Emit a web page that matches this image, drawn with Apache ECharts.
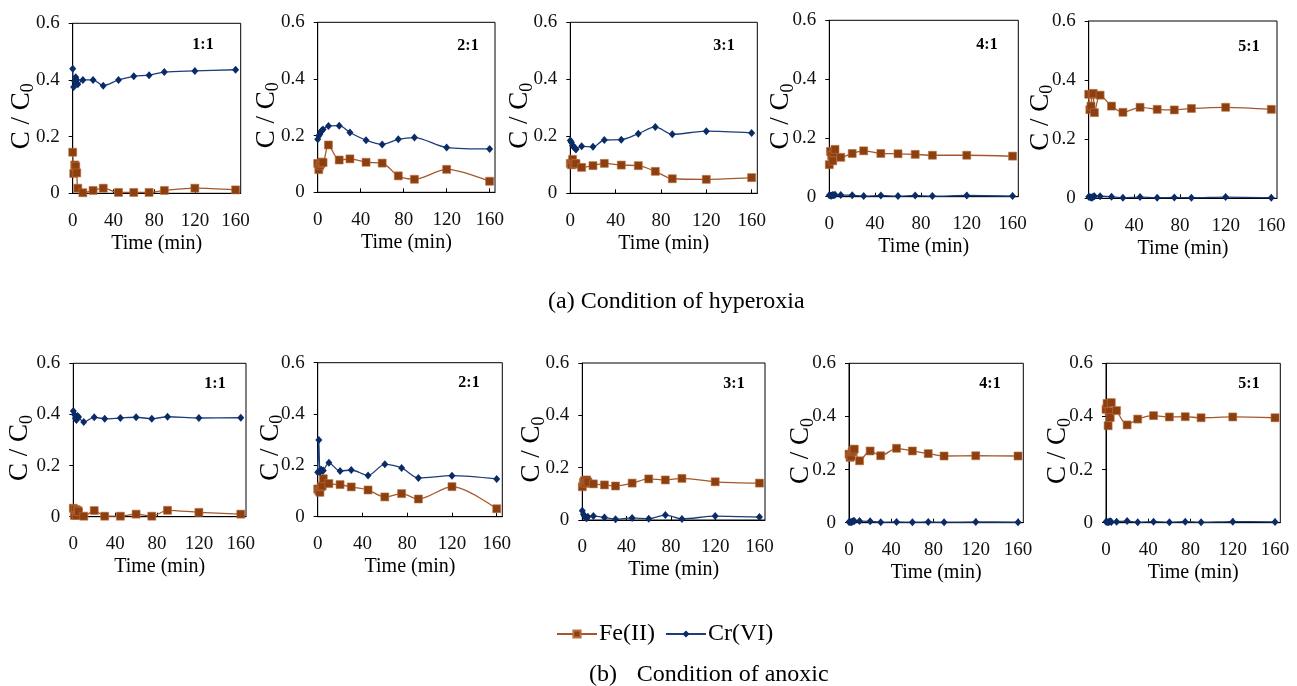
<!DOCTYPE html>
<html><head><meta charset="utf-8">
<script src="https://cdn.jsdelivr.net/npm/echarts@6/dist/echarts.min.js"></script>
<style>html,body{margin:0;padding:0;background:#fff}#c{width:1297px;height:686px}</style>
</head><body><div id="c"></div><script>
// ---- data ----
const times = [0, 1, 2, 3, 4, 5, 10, 20, 30, 45, 60, 75, 90, 120, 160];
const ratios = ['1:1', '2:1', '3:1', '4:1', '5:1'];
const yTicks = [0, 0.2, 0.4, 0.6];
const xTicks = [0, 40, 80, 120, 160];

// (a) hyperoxia
const feA1 = [0.145, 0.07, 0.1, 0.095, 0.072, 0.018, 0.002, 0.01, 0.018, 0.003, 0.003, 0.003, 0.01, 0.018, 0.012];
const crA1 = [0.44, 0.375, 0.395, 0.41, 0.40, 0.385, 0.40, 0.40, 0.38, 0.40, 0.413, 0.417, 0.428, 0.432, 0.436];
const feA2 = [0.102, 0.08, 0.095, 0.102, 0.107, 0.105, 0.167, 0.114, 0.118, 0.106, 0.103, 0.058, 0.046, 0.081, 0.039];
const crA2 = [0.187, 0.20, 0.205, 0.215, 0.218, 0.222, 0.234, 0.235, 0.211, 0.184, 0.169, 0.187, 0.193, 0.158, 0.153];
const feA3 = [0.105, 0.1, 0.119, 0.102, 0.105, 0.104, 0.091, 0.097, 0.105, 0.099, 0.097, 0.077, 0.051, 0.049, 0.055];
const crA3 = [0.185, 0.178, 0.167, 0.163, 0.16, 0.154, 0.165, 0.163, 0.187, 0.188, 0.209, 0.233, 0.207, 0.218, 0.212];
const feA4 = [0.109, 0.154, 0.14, 0.122, 0.15, 0.161, 0.134, 0.147, 0.156, 0.147, 0.146, 0.144, 0.141, 0.141, 0.138];
const crA4 = [0.005, 0.004, 0.003, 0.006, 0.005, 0.007, 0.006, 0.005, 0.002, 0.004, 0.002, 0.004, 0.002, 0.004, 0.002];
const feA5 = [0.352, 0.30, 0.312, 0.352, 0.355, 0.29, 0.349, 0.312, 0.291, 0.308, 0.301, 0.299, 0.304, 0.308, 0.301];
const crA5 = [0.005, 0.004, 0.003, 0.002, 0.006, 0.007, 0.007, 0.005, 0.002, 0.004, 0.002, 0.003, 0.002, 0.004, 0.002];

// (b) anoxic
const feB1 = [0.033, 0.005, 0.028, 0.005, 0.025, 0.02, 0.002, 0.024, 0.002, 0.002, 0.01, 0.002, 0.025, 0.017, 0.01];
const crB1 = [0.413, 0.40, 0.385, 0.378, 0.394, 0.39, 0.37, 0.389, 0.383, 0.386, 0.389, 0.383, 0.391, 0.386, 0.387];
const feB2 = [0.108, 0.101, 0.095, 0.117, 0.12, 0.148, 0.129, 0.125, 0.116, 0.104, 0.077, 0.09, 0.069, 0.117, 0.031];
const crB2 = [0.173, 0.299, 0.175, 0.184, 0.179, 0.18, 0.21, 0.178, 0.182, 0.161, 0.204, 0.19, 0.151, 0.16, 0.147];
const feB3 = [0.127, 0.143, 0.15, 0.14, 0.153, 0.145, 0.138, 0.134, 0.13, 0.141, 0.157, 0.153, 0.159, 0.146, 0.141];
const crB3 = [0.035, 0.022, 0.015, 0.01, 0.007, 0.012, 0.015, 0.01, 0.003, 0.008, 0.005, 0.019, 0.004, 0.015, 0.011];
const feB4 = [0.258, 0.246, 0.25, 0.267, 0.273, 0.277, 0.233, 0.27, 0.252, 0.28, 0.27, 0.26, 0.251, 0.252, 0.251];
const crB4 = [0.003, 0.003, 0.002, 0.004, 0.006, 0.006, 0.006, 0.005, 0.002, 0.003, 0.002, 0.003, 0.002, 0.003, 0.002];
const feB5 = [0.427, 0.449, 0.365, 0.418, 0.396, 0.452, 0.422, 0.368, 0.39, 0.403, 0.398, 0.399, 0.395, 0.398, 0.395];
const crB5 = [0.004, 0.003, 0.002, 0.004, 0.005, 0.003, 0.004, 0.006, 0.002, 0.004, 0.002, 0.004, 0.002, 0.004, 0.003];

const feSets = [feA1, feA2, feA3, feA4, feA5, feB1, feB2, feB3, feB4, feB5];
const crSets = [crA1, crA2, crA3, crA4, crA5, crB1, crB2, crB3, crB4, crB5];

// ---- layout (positions only) ----
const panels = [
  {left: 72.7, top: 23.3, width: 168, height: 170, gap: 35, lx: 203, ly: 45},
  {left: 317.7, top: 22.3, width: 177.3, height: 170, gap: 35, lx: 468, ly: 46},
  {left: 570.3, top: 22.3, width: 187, height: 171, gap: 34, lx: 724, ly: 46},
  {left: 829.3, top: 20.3, width: 189, height: 176.4, gap: 32, lx: 987, ly: 45},
  {left: 1088.7, top: 21, width: 188.3, height: 177.3, gap: 32, lx: 1249, ly: 47},
  {left: 73.3, top: 363.3, width: 172.7, height: 153.4, gap: 37, lx: 215, ly: 384},
  {left: 317.7, top: 362.7, width: 184.6, height: 154, gap: 31, lx: 469, ly: 383},
  {left: 582.3, top: 363, width: 182.7, height: 157, gap: 34, lx: 734, ly: 384},
  {left: 849, top: 363.3, width: 174.3, height: 159.4, gap: 32, lx: 990, ly: 384},
  {left: 1106, top: 363.3, width: 174.3, height: 159.4, gap: 32, lx: 1249, ly: 384}
];

const FONT = '"Liberation Serif", "Times New Roman", serif';
const FE_LINE = '#A3582B', FE_MARK = '#8E3F10';
const CR_LINE = '#1C3D7A', CR_MARK = '#0B2B66';

const grids = [], xAxes = [], yAxes = [], series = [], graphics = [];
panels.forEach((p, i) => {
  grids.push({left: p.left, top: p.top, width: p.width, height: p.height,
    show: true, borderColor: '#000', borderWidth: 1, backgroundColor: 'transparent', containLabel: false});
  xAxes.push({type: 'value', gridIndex: i, min: xTicks[0], max: 165, interval: xTicks[1] - xTicks[0],
    name: 'Time (min)', nameLocation: 'middle', nameGap: 40, nameMoveOverlap: false,
    nameTextStyle: {fontFamily: FONT, fontSize: 20, color: '#000'},
    axisLine: {show: true, onZero: false, lineStyle: {color: '#000', width: 1}},
    axisTick: {show: true, inside: true, length: 4, lineStyle: {color: '#000'}},
    axisLabel: {show: true, showMaxLabel: false, margin: 18, fontFamily: FONT, fontSize: 19, color: '#111'},
    splitLine: {show: false}});
  yAxes.push({type: 'value', gridIndex: i, min: yTicks[0], max: yTicks[yTicks.length - 1], interval: yTicks[1] - yTicks[0],
    name: '{m|C / C}{s|0}', nameLocation: 'middle', nameGap: p.gap, nameMoveOverlap: false,
    nameTextStyle: {fontFamily: FONT, color: '#000', padding: [0, 16, 0, 0],
      rich: {m: {fontFamily: FONT, fontSize: 27, lineHeight: 32, color: '#000'},
             s: {fontFamily: FONT, fontSize: 18, lineHeight: 18, verticalAlign: 'bottom', color: '#000'}}},
    axisLine: {show: true, lineStyle: {color: '#000', width: 1}},
    axisTick: {show: true, inside: false, length: 4, lineStyle: {color: '#000'}},
    axisLabel: {show: true, margin: 13, fontFamily: FONT, fontSize: 19, color: '#111'},
    splitLine: {show: false}});
  series.push({type: 'line', name: 'Fe(II)', xAxisIndex: i, yAxisIndex: i,
    data: times.map((t, k) => [t, feSets[i][k]]),
    smooth: 0.3, symbol: 'rect', symbolSize: 8,
    lineStyle: {color: FE_LINE, width: 1.3}, itemStyle: {color: FE_MARK, borderColor: '#B8703F', borderWidth: 0.6}});
  series.push({type: 'line', name: 'Cr(VI)', xAxisIndex: i, yAxisIndex: i,
    data: times.map((t, k) => [t, crSets[i][k]]),
    smooth: 0.3, symbol: 'diamond', symbolSize: [7, 8],
    lineStyle: {color: CR_LINE, width: 1.3}, itemStyle: {color: CR_MARK}});
  graphics.push({type: 'text', x: p.lx, y: p.ly,
    style: {text: ratios[i % 5], font: 'bold 16px ' + FONT, fill: '#000', textAlign: 'center', textVerticalAlign: 'middle'}});
});

graphics.push({type: 'text', x: 548, y: 302,
  style: {text: '(a) Condition of hyperoxia', font: '24px ' + FONT, fill: '#000', textAlign: 'left', textVerticalAlign: 'middle'}});
graphics.push({type: 'text', x: 589, y: 675,
  style: {text: '(b)', font: '24px ' + FONT, fill: '#000', textAlign: 'left', textVerticalAlign: 'middle'}});
graphics.push({type: 'text', x: 636.7, y: 675,
  style: {text: 'Condition of anoxic', font: '24px ' + FONT, fill: '#000', textAlign: 'left', textVerticalAlign: 'middle'}});

const option = {
  animation: false,
  backgroundColor: '#fff',
  grid: grids, xAxis: xAxes, yAxis: yAxes, series: series,
  legend: {show: true, left: 551, top: 617, itemWidth: 40, itemHeight: 9, itemGap: 10,
    data: ['Fe(II)', 'Cr(VI)'],
    textStyle: {fontFamily: FONT, fontSize: 24, color: '#000', padding: [0, 0, 0, -3]}},
  graphic: graphics
};
const chart = echarts.init(document.getElementById('c'), null, {renderer: 'canvas'});
chart.setOption(option);
</script></body></html>
